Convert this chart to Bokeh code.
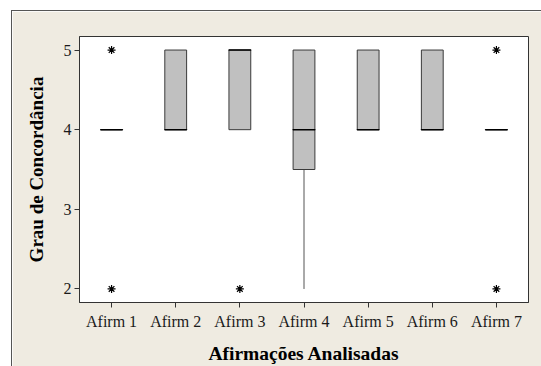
from bokeh.plotting import figure
from bokeh.models import FixedTicker, Spacer
from bokeh.layouts import column, row
from bokeh.embed import file_html
from bokeh.resources import INLINE

cats = ["Afirm 1", "Afirm 2", "Afirm 3", "Afirm 4", "Afirm 5", "Afirm 6", "Afirm 7"]
q1 = [4, 4, 4, 3.5, 4, 4, 4]
med = [4, 4, 5, 4, 4, 4, 4]
q3 = [4, 5, 5, 5, 5, 5, 4]
w_low = [4, 4, 4, 2, 4, 4, 4]
w_high = [4, 5, 5, 5, 5, 5, 4]
out_cat = ["Afirm 1", "Afirm 1", "Afirm 3", "Afirm 7", "Afirm 7"]
out_val = [5, 2, 2, 5, 2]
y_ticks = [2, 3, 4, 5]

BEIGE = "#efebe1"
FONT = "Liberation Serif"

p = figure(x_range=cats, y_range=(1.83, 5.17), width=529, height=355,
           output_backend="svg", toolbar_location=None,
           min_border_left=67, min_border_right=13, min_border_top=25, min_border_bottom=61)
p.border_fill_color = BEIGE
p.background_fill_color = "white"
p.outline_line_color = "#333333"
p.outline_line_width = 1
p.xgrid.visible = False
p.ygrid.visible = False
p.x_range.range_padding = 0

p.segment(x0=cats, y0=w_low, x1=cats, y1=q1, line_color="#555555", line_width=1)
p.segment(x0=cats, y0=q3, x1=cats, y1=w_high, line_color="#555555", line_width=1)
p.vbar(x=cats, width=0.34, bottom=q1, top=q3, fill_color="#c0c0c0",
       line_color="#3a3a3a", line_width=1)
p.hbar(y=med, left=[(c, -0.17) for c in cats], right=[(c, 0.17) for c in cats],
       height=0.0001, line_color="black", line_width=1.6, fill_color=None)
p.scatter(x=out_cat, y=out_val, marker="asterisk", size=8, line_color="black", line_width=1.2)

for ax in (p.xaxis[0], p.yaxis[0]):
    ax.major_label_text_font = FONT
    ax.major_label_text_font_size = "16px"
    ax.major_label_text_color = "#1a1a1a"
    ax.axis_label_text_font = FONT
    ax.axis_label_text_font_style = "bold"
    ax.axis_label_text_color = "black"
    ax.major_tick_out = 5
    ax.major_tick_in = 0
    ax.minor_tick_line_color = None
    ax.axis_line_color = "#333333"
    ax.major_tick_line_color = "#333333"

p.xaxis.axis_label_text_font_size = "19.5px"
p.yaxis.axis_label_text_font_size = "19px"
p.xaxis.axis_label = "Afirmações Analisadas"
p.yaxis.axis_label = "Grau de Concordância"
p.yaxis.ticker = FixedTicker(ticks=y_ticks)
p.xaxis.major_label_standoff = 5
p.yaxis.major_label_standoff = 3
p.xaxis.axis_label_standoff = 10
p.yaxis.axis_label_standoff = 14

line_style = {"background-color": "#555555"}
layout = column(
    Spacer(width=541, height=10),
    row(
        Spacer(width=11, height=356),
        column(
            Spacer(width=530, height=1, styles=line_style),
            row(Spacer(width=1, height=355, styles=line_style), p),
        ),
    ),
)

open("out.html", "w").write(file_html(layout, INLINE))
